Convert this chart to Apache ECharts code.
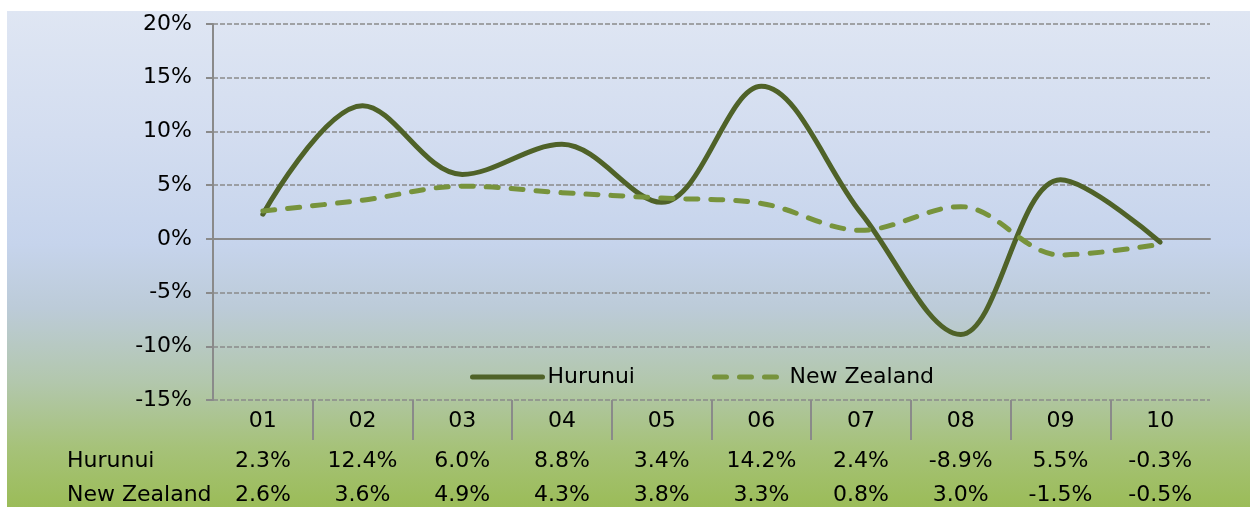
<!DOCTYPE html>
<html>
<head>
<meta charset="utf-8">
<script src="https://cdn.jsdelivr.net/npm/echarts@6/dist/echarts.min.js"></script>
<style>
  html, body { margin:0; padding:0; background:#ffffff; width:1250px; height:507px; overflow:hidden; }
  #bg { position:absolute; left:7px; top:11px; width:1243px; height:496px;
        background: linear-gradient(to bottom, #dfe6f3 0%, #d3ddf0 25%, #c6d4ec 47%, #bccbd8 60%, #b2c7ac 75%, #a6c279 88%, #9bbc58 100%); }
  #chart { position:absolute; left:7px; top:11px; width:1243px; height:496px; }
</style>
</head>
<body>
<div id="bg"></div>
<div id="chart"></div>
<script>
const categories = ['01', '02', '03', '04', '05', '06', '07', '08', '09', '10'];
const hurunui = [2.3, 12.4, 6.0, 8.8, 3.4, 14.2, 2.4, -8.9, 5.5, -0.3];
const newZealand = [2.6, 3.6, 4.9, 4.3, 3.8, 3.3, 0.8, 3.0, -1.5, -0.5];
const seriesNames = ['Hurunui', 'New Zealand'];
const yTicks = { min: -15, max: 20, interval: 5 };

const FONT = 'DejaVu Sans';
const GRAY = '#8a8a8a';
const fmt = v => v.toFixed(1) + '%';

const chart = echarts.init(document.getElementById('chart'), null, { renderer: 'canvas' });

const gridL = 206, gridR = 40;

const labelAxis = (data, offset) => ({
  type: 'category', gridIndex: 0, data: data, position: 'bottom', offset: offset,
  boundaryGap: true,
  axisLine: { show: false, onZero: false },
  axisTick: { show: false },
  splitLine: { show: false },
  axisLabel: { show: true, interval: 0, margin: 10, color: '#000', fontFamily: FONT, fontSize: 22 }
});

const option = {
  animation: false,
  textStyle: { fontFamily: FONT },
  grid: [
    { left: gridL, right: gridR, top: 13, height: 376 },
    { left: gridL, right: gridR, top: 389, height: 40 }
  ],
  legend: {
    data: seriesNames,
    left: 458, top: 350,
    itemWidth: 70, itemHeight: 14, itemGap: 77,
    itemStyle: { opacity: 0 },
    lineStyle: { width: 'inherit', type: 'inherit', cap: 'inherit', color: 'inherit' },
    textStyle: { fontFamily: FONT, fontSize: 22, color: '#000' }
  },
  xAxis: [
    {
      type: 'category', gridIndex: 0, data: categories, boundaryGap: true,
      axisLine: { show: true, onZero: true, lineStyle: { color: GRAY, width: 2 } },
      axisTick: { show: false }, axisLabel: { show: false }, splitLine: { show: false }
    },
    labelAxis(categories, 0),
    labelAxis(hurunui.map(fmt), 40),
    labelAxis(newZealand.map(fmt), 74),
    {
      type: 'category', gridIndex: 1, data: categories, boundaryGap: true,
      axisLine: { show: false }, axisTick: { show: false }, axisLabel: { show: false },
      splitLine: { show: true, interval: 0, showMinLine: false, showMaxLine: false,
                   lineStyle: { color: GRAY, width: 2, type: 'solid' } }
    }
  ],
  yAxis: [
    {
      type: 'value', gridIndex: 0, min: yTicks.min, max: yTicks.max, interval: yTicks.interval,
      axisLine: { show: true, lineStyle: { color: GRAY, width: 2 } },
      axisTick: { show: true, length: 7, lineStyle: { color: GRAY, width: 2 } },
      axisLabel: { formatter: '{value}%', margin: 21, color: '#000', fontFamily: FONT, fontSize: 22 },
      splitLine: { show: true, lineStyle: { color: GRAY, width: 1.5, type: [5, 2] } }
    },
    { type: 'value', gridIndex: 1, show: false, min: 0, max: 1 }
  ],
  series: [
    {
      name: seriesNames[0], type: 'line', xAxisIndex: 0, yAxisIndex: 0,
      data: hurunui, smooth: 0.35, symbol: 'none',
      lineStyle: { color: '#4f6228', width: 5, cap: 'round', join: 'round' },
      itemStyle: { color: '#4f6228' }
    },
    {
      name: seriesNames[1], type: 'line', xAxisIndex: 0, yAxisIndex: 0,
      data: newZealand, smooth: 0.35, symbol: 'none',
      lineStyle: { color: '#77933c', width: 5, type: [12, 13], cap: 'round', join: 'round' },
      itemStyle: { color: '#77933c' }
    }
  ],
  graphic: [
    { type: 'text', left: 60, top: 439, style: { text: 'Hurunui', fill: '#000', font: '22px "DejaVu Sans"' } },
    { type: 'text', left: 60, top: 473, style: { text: 'New Zealand', fill: '#000', font: '22px "DejaVu Sans"' } }
  ]
};

chart.setOption(option);
</script>
</body>
</html>
